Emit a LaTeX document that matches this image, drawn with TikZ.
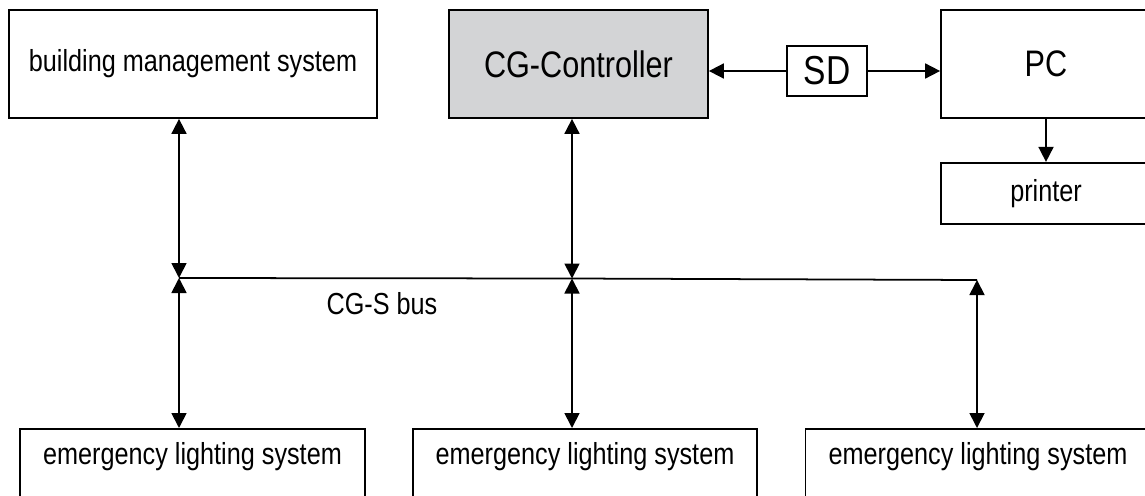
\documentclass[tikz,border=0pt]{standalone}
\usepackage{fontspec}
\setmainfont{Liberation Sans}[FakeStretch=0.83]
\usetikzlibrary{positioning, arrows.meta}
\definecolor{ctrlgray}{RGB}{211,212,214}

\begin{document}
\begin{tikzpicture}[
        line width=1pt,
        box/.style={rectangle, draw=black, minimum height=2.16cm, align=center, font=\fontsize{17.3}{21}\selectfont},
        bigbox/.style={box, font=\fontsize{21}{25}\selectfont},
        elsbox/.style={rectangle, draw=black, minimum width=6.9cm, inner ysep=0pt, text height=0.72cm, text depth=1.5cm, anchor=north, font=\fontsize{17.3}{21}\selectfont},
        link/.style={{Triangle[length=0.3cm, width=0.3cm]}-{Triangle[length=0.3cm, width=0.3cm]}},
        oneway/.style={-{Triangle[length=0.3cm, width=0.3cm]}}
    ]
    \useasboundingbox (0,0) rectangle (22.9,-9.9);
    \clip (0,0) rectangle (22.9,-9.9);

    % TOP ROW
    \node[box, minimum width=7.36cm] (bms) at (3.86,-1.28) {building management system};
    \node[bigbox, minimum width=5.18cm, fill=ctrlgray] (cgc) at (11.57,-1.28) {CG-Controller};
    \node[bigbox, minimum width=1.6cm, minimum height=1cm, inner sep=0pt, font=\fontsize{23}{27}\selectfont] (sd) at (16.54,-1.42) {SD};
    \node[bigbox, minimum width=4.2cm] (pc) at (20.92,-1.28) {PC};
    \node[box, minimum width=4.2cm, minimum height=1.22cm, below=0.86cm of pc] (printer) {printer};

    % CG-S BUS
    \coordinate (b1) at (3.58,-5.56);
    \coordinate (b2) at (11.44,-5.57);
    \coordinate (b3) at (19.54,-5.6);
    \draw (b1) -- (b2) -- (b3);
    \node[font=\fontsize{17.3}{21}\selectfont, anchor=base] (buslabel) at (7.64,-6.28) {CG-S bus};

    % BOTTOM ROW
    \node[elsbox] (els1) at (3.85,-8.56) {emergency lighting system};
    \node[elsbox, minimum width=6.88cm] (els2) at (11.7,-8.56) {emergency lighting system};
    \node[elsbox] (els3) at (19.56,-8.56) {emergency lighting system};

    % Arrows
    \draw[oneway] (sd.west) -- (sd.west -| cgc.east);
    \draw[oneway] (sd.east) -- (sd.east -| pc.west);
    \draw[oneway] (pc) -- (printer);
    \draw[link] (bms.south -| b1) -- (b1);
    \draw[link] (cgc.south -| b2) -- (b2);
    \draw[link] (b1) -- (els1.north -| b1);
    \draw[link] (b2) -- (els2.north -| b2);
    \draw[link] (b3) -- (els3.north -| b3);
\end{tikzpicture}
\end{document}
